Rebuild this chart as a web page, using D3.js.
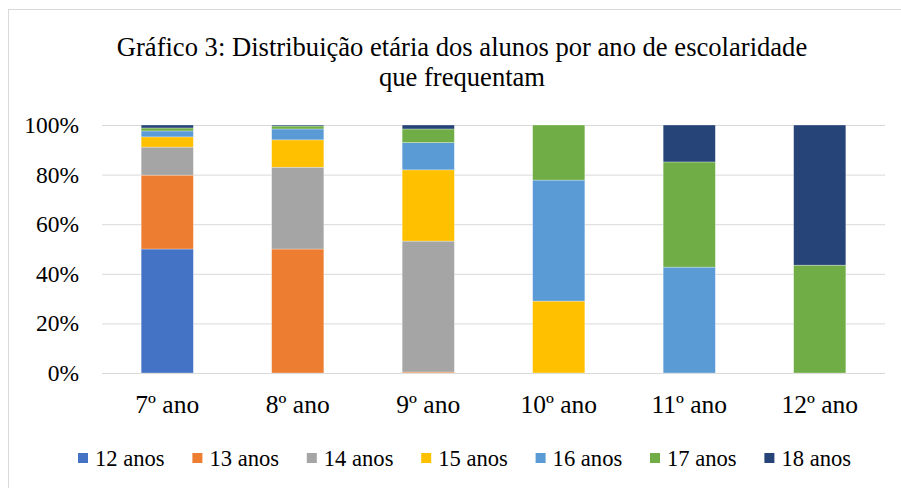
<!DOCTYPE html>
<html><head><meta charset="utf-8">
<script src="https://cdn.jsdelivr.net/npm/d3@7"></script>
<style>body{margin:0;background:#fff}svg{display:block}</style>
</head><body>
<svg id="c" width="901" height="488"></svg>
<script>
const categories = ["7º ano","8º ano","9º ano","10º ano","11º ano","12º ano"];
const seriesNames = ["12 anos","13 anos","14 anos","15 anos","16 anos","17 anos","18 anos"];
const s12 = [50.0, 0,    0,    0,    0,    0];
const s13 = [29.8, 50.0, 0.4,  0,    0,    0];
const s14 = [11.3, 33.0, 52.8, 0,    0,    0];
const s15 = [4.1,  11.0, 28.7, 29.0, 0,    0];
const s16 = [2.4,  4.4,  11.0, 48.8, 42.7, 0];
const s17 = [1.2,  1.2,  5.5,  22.2, 42.4, 43.5];
const s18 = [1.2,  0.4,  1.6,  0,    14.9, 56.5];
const yTicks = [0, 20, 40, 60, 80, 100];
const colors = ["#4472C4","#ED7D31","#A5A5A5","#FFC000","#5B9BD5","#70AD47","#264478"];

(function(){
const svg = d3.select("#c");
const font = "'Liberation Serif','Times New Roman',serif";
svg.append("rect").attr("x",8.5).attr("y",9.5).attr("width",900).attr("height",480)
  .attr("fill","none").attr("stroke","#d9d9d9");

const pl=102, pr=885, pt=125, pb=373;
const x = d3.scaleBand().domain(categories).range([pl,pr]).paddingInner(0.6).paddingOuter(0.3);
const y = d3.scaleLinear().domain([0,100]).range([pb,pt]);

svg.append("g").selectAll("line").data(yTicks).join("line")
  .attr("x1",pl).attr("x2",pr).attr("y1",d=>y(d)+0.5).attr("y2",d=>y(d)+0.5)
  .attr("stroke","#d9d9d9").attr("stroke-width",1);

const rows = categories.map((c,i)=>{const o={cat:c}; [s12,s13,s14,s15,s16,s17,s18].forEach((s,j)=>o[seriesNames[j]]=s[i]); return o;});
const stack = d3.stack().keys(seriesNames)(rows);
svg.append("g").selectAll("g").data(stack).join("g").attr("fill",(d,i)=>colors[i])
  .selectAll("rect").data(d=>d).join("rect")
  .attr("x",d=>x(d.data.cat)).attr("width",x.bandwidth())
  .attr("y",d=>y(d[1])).attr("height",d=>Math.max(0,y(d[0])-y(d[1])))
  .attr("stroke","#fff").attr("stroke-width",0.5).attr("stroke-opacity",0.6);

const yAxis = d3.axisLeft(y).tickValues(yTicks).tickFormat(d=>d+"%").tickSize(0).tickPadding(23);
const ga = svg.append("g").attr("transform",`translate(${pl},0)`).call(yAxis);
ga.select(".domain").remove();
ga.selectAll("text").attr("font-family",font).attr("font-size",23.5).attr("fill","#000");

const xAxis = d3.axisBottom(x).tickSize(0).tickPadding(22);
const gx = svg.append("g").attr("transform",`translate(0,${pb})`).call(xAxis);
gx.select(".domain").remove();
gx.selectAll("text").attr("font-family",font).attr("font-size",25.5).attr("fill","#000");

const title = svg.append("text").attr("text-anchor","middle")
  .attr("font-family",font).attr("font-size",26.6).attr("fill","#000");
title.append("tspan").attr("x",462).attr("y",56).text("Gráfico 3: Distribuição etária dos alunos por ano de escolaridade");
title.append("tspan").attr("x",462).attr("y",86).text("que frequentam");

const lg = svg.append("g").selectAll("g").data(seriesNames).join("g")
  .attr("transform",(d,i)=>`translate(${78+i*114.4},0)`);
lg.append("rect").attr("x",0).attr("y",453).attr("width",10).attr("height",10).attr("fill",(d,i)=>colors[i]);
lg.append("text").attr("x",17).attr("y",466).text(d=>d)
  .attr("font-family",font).attr("font-size",22.6).attr("fill","#000");
})();
</script>
</body></html>
